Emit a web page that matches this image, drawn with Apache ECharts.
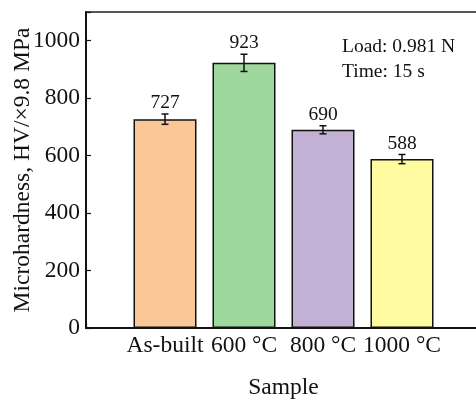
<!DOCTYPE html>
<html>
<head>
<meta charset="utf-8">
<script src="https://cdn.jsdelivr.net/npm/echarts@6/dist/echarts.min.js"></script>
<style>html,body{margin:0;padding:0;background:#fff;}#c{width:476px;height:399px;}</style>
</head>
<body>
<div id="c"></div>
<script>
const categories = ['As-built', '600 °C', '800 °C', '1000 °C'];
const hardness = [727, 923, 690, 588];
const errors = [18, 30, 14, 16];
const barColors = ['#F9C896', '#9ED89D', '#C2B1D5', '#FFFBA1'];
const yTicks = [0, 200, 400, 600, 800, 1000];
const noteLines = ['Load: 0.981 N', 'Time: 15 s'];

const FONT = 'Liberation Serif';
const chart = echarts.init(document.getElementById('c'), null, {renderer: 'canvas'});

const barData = hardness.map((v, i) => ({
  value: [i + 1, v],
  itemStyle: {color: barColors[i]}
}));
const errData = hardness.map((v, i) => [i + 1, v, errors[i]]);

chart.setOption({
  animation: false,
  backgroundColor: '#fff',
  grid: {left: 86, top: 12, width: 395, height: 316, show: true, borderColor: '#222', borderWidth: 1.5,
         backgroundColor: 'transparent', containLabel: false, outerBoundsMode: 'none'},
  xAxis: {
    type: 'value', min: 0, max: 5, interval: 1,
    name: 'Sample', nameLocation: 'middle', nameGap: 48, nameMoveOverlap: false,
    nameTextStyle: {fontFamily: FONT, fontSize: 23.5, color: '#111'},
    axisLine: {lineStyle: {color: '#111', width: 2}},
    axisTick: {inside: true, length: 5, lineStyle: {color: '#111', width: 1.2}},
    axisLabel: {
      fontFamily: FONT, fontSize: 23.5, color: '#111', margin: 6,
      formatter: v => (v >= 1 && v <= categories.length) ? categories[v - 1] : ''
    },
    splitLine: {show: false}
  },
  yAxis: {
    type: 'value', min: 0, max: 1100, interval: 200,
    name: 'Microhardness, HV/×9.8 MPa', nameLocation: 'middle', nameGap: 51, nameMoveOverlap: false,
    nameTextStyle: {fontFamily: FONT, fontSize: 23.5, color: '#111'},
    axisLine: {show: true, lineStyle: {color: '#111', width: 2}},
    axisTick: {inside: true, length: 5, lineStyle: {color: '#111', width: 1.2}},
    axisLabel: {
      fontFamily: FONT, fontSize: 23.5, color: '#111', margin: 6,
      formatter: v => yTicks.indexOf(v) >= 0 ? String(v) : ''
    },
    splitLine: {show: false}
  },
  series: [
    {
      type: 'bar', data: barData, barWidth: 63,
      itemStyle: {borderColor: '#111', borderWidth: 1.5}
    },
    {
      type: 'custom', data: errData, z: 5,
      renderItem: function (params, api) {
        const x = api.value(0), v = api.value(1), e = api.value(2);
        const top = api.coord([x, v + e]);
        const bot = api.coord([x, v - e]);
        const hw = 3.5;
        return {
          type: 'group',
          children: [
            {type: 'line', shape: {x1: top[0], y1: top[1], x2: bot[0], y2: bot[1]}, style: {stroke: '#111', lineWidth: 1.5}},
            {type: 'line', shape: {x1: top[0] - hw, y1: top[1], x2: top[0] + hw, y2: top[1]}, style: {stroke: '#111', lineWidth: 1.5}},
            {type: 'line', shape: {x1: bot[0] - hw, y1: bot[1], x2: bot[0] + hw, y2: bot[1]}, style: {stroke: '#111', lineWidth: 1.5}},
            {type: 'text', style: {text: String(v), x: top[0], y: top[1] - 1, textAlign: 'center', textVerticalAlign: 'bottom', font: '19.5px "' + FONT + '"', fill: '#111'}}
          ]
        };
      }
    }
  ],
  graphic: [
    {type: 'text', left: 342, top: 37, style: {text: noteLines[0], font: '19.5px "' + FONT + '"', fill: '#111'}},
    {type: 'text', left: 342, top: 62, style: {text: noteLines[1], font: '19.5px "' + FONT + '"', fill: '#111'}}
  ]
});
</script>
</body>
</html>
